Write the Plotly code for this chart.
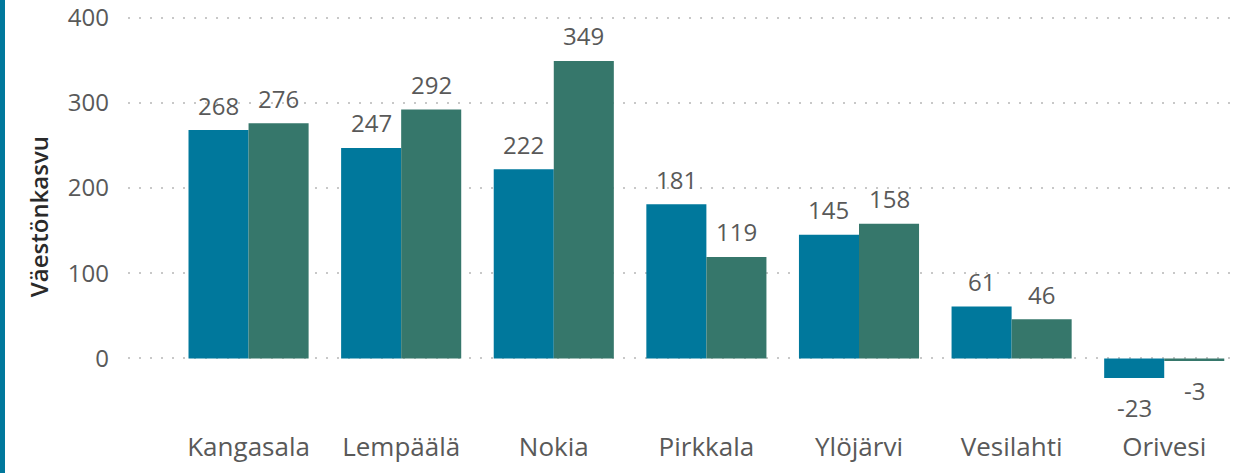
import plotly.graph_objects as go

categories = ["Kangasala", "Lempäälä", "Nokia", "Pirkkala", "Ylöjärvi", "Vesilahti", "Orivesi"]
series_a = [268, 247, 222, 181, 145, 61, -23]
series_b = [276, 292, 349, 119, 158, 46, -3]
y_ticks = [0, 100, 200, 300, 400]
y_title = "Väestönkasvu"

BLUE = "#00789C"
GREEN = "#36776B"
FONT = "Open Sans"
GRAY = "#595959"
BARGAP = 0.213

fig = go.Figure()
fig.add_trace(go.Bar(x=categories, y=series_a, marker_color=BLUE, marker_line_width=0, showlegend=False))
fig.add_trace(go.Bar(x=categories, y=series_b, marker_color=GREEN, marker_line_width=0, showlegend=False))

off = (1 - BARGAP) / 4
annotations = []
for i, (a, b) in enumerate(zip(series_a, series_b)):
    for v, dx in ((a, -off), (b, off)):
        annotations.append(dict(
            x=i + dx, y=v, xref="x", yref="y", text=str(v), showarrow=False,
            yanchor="middle", yshift=25 if v >= 0 else -30,
            font=dict(family=FONT, size=24, color=GRAY)))

annotations.append(dict(
    x=-(128 - 38) / 1111, y=0.469, xref="paper", yref="paper", text=y_title,
    textangle=-90, showarrow=False, xanchor="center", yanchor="middle",
    font=dict(family=FONT, size=24, color="#2a2a2a", weight=600)))

fig.update_layout(
    width=1239, height=473,
    margin=dict(l=128, r=0, t=9, b=72, pad=0),
    paper_bgcolor="white", plot_bgcolor="white",
    barmode="group", bargap=BARGAP, bargroupgap=0,
    annotations=annotations,
    shapes=[dict(type="rect", xref="paper", yref="paper", xsizemode="pixel", ysizemode="pixel",
                 xanchor=0, yanchor=0, x0=-128, x1=-123, y0=-80, y1=480,
                 fillcolor=BLUE, line_width=0, layer="above")],
    xaxis=dict(type="category", range=[-0.79, 6.49], showgrid=False, showline=False,
               zeroline=False, ticks="", ticklabelstandoff=28,
               tickfont=dict(family=FONT, size=26, color=GRAY)),
    yaxis=dict(range=[-50, 410], tickvals=y_ticks, showgrid=True, gridcolor="#c8c8c8",
               gridwidth=2, griddash="2px,9px", zeroline=False, showline=False, ticks="",
               ticklabelstandoff=18, ticklabeloverflow="allow",
               tickfont=dict(family=FONT, size=24, color=GRAY)),
)

fig.write_html("out.html", config={"displayModeBar": False},
               post_script="document.body.style.margin='0';document.body.style.overflow='hidden';")
